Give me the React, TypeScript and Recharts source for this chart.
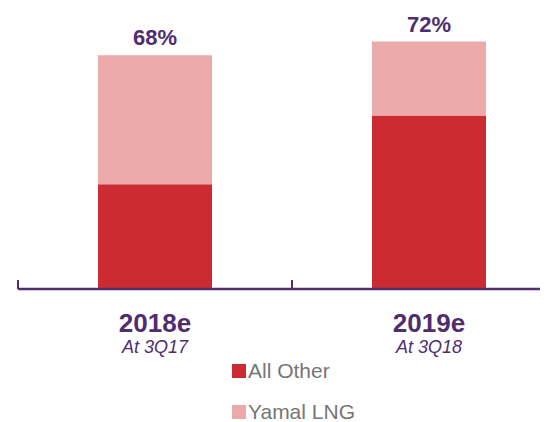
import React from 'react';
import { BarChart, Bar, XAxis, YAxis, LabelList, Legend } from 'recharts';

const years = ['2018e', '2019e'];
const asOf = ['At 3Q17', 'At 3Q18'];
const allOther = [30.5, 50.5];
const yamal = [37.5, 21.5];
const totals = ['68%', '72%'];
const seriesNames = ['All Other', 'Yamal LNG'];

const purple = '#4f2d6f';
const darkRed = '#cc2b31';
const pink = '#eba9aa';
const font = '"Liberation Sans", Arial, sans-serif';

const data = years.map((year, i) => ({
  year,
  sub: asOf[i],
  allOther: allOther[i],
  yamal: yamal[i],
  total: totals[i],
}));

// category label plus the small upward tick at each category's edge
const YearTick = (props: any) => {
  const { x, y, index, payload, width, visibleTicksCount } = props;
  const half = payload && payload.offset ? payload.offset : width / (visibleTicksCount || 2) / 2;
  const left = x - half;
  const right = x + half;
  return (
    <g>
      <line x1={left} x2={left} y1={y - 9} y2={y} stroke={purple} strokeWidth={2} />
      {index === data.length - 1 && <line x1={right} x2={right} y1={y - 9} y2={y} stroke={purple} strokeWidth={2} />}
      <text x={x} y={y + 43} textAnchor="middle" fill={purple} fontSize={26} fontWeight="bold" fontFamily={font}>
        {data[index].year}
      </text>
      <text x={x} y={y + 64} textAnchor="middle" fill={purple} fontSize={18} fontStyle="italic" fontFamily={font}>
        {data[index].sub}
      </text>
    </g>
  );
};

const LegendBox = () => {
  const colors = [darkRed, pink];
  return (
    <div style={{ position: 'relative', height: 64, width: 540, fontFamily: font }}>
      {seriesNames.map((name, i) => (
        <div key={name}>
          <div style={{ position: 'absolute', left: 224, top: 6 + i * 41, width: 14, height: 14, background: colors[i] }} />
          <div style={{ position: 'absolute', left: 240, top: 1 + i * 41, fontSize: 21, lineHeight: '24px', color: '#767676', whiteSpace: 'nowrap' }}>
            {name}
          </div>
        </div>
      ))}
    </div>
  );
};

export default function App() {
  return (
    <div style={{ width: 540, height: 414, overflow: 'hidden' }}>
      <BarChart width={558} height={414} data={data} margin={{ top: 6, right: 0, bottom: 0, left: 10 }}>
        <XAxis
          dataKey="year"
          height={69}
          tickLine={false}
          tickSize={0}
          tickMargin={0}
          axisLine={{ stroke: purple, strokeWidth: 2.5 }}
          tick={<YearTick />}
          interval={0}
        />
        <YAxis hide domain={[0, 80]} />
        <Legend verticalAlign="bottom" wrapperStyle={{ left: 0, width: 540 }} content={<LegendBox />} />
        <Bar dataKey="allOther" name={seriesNames[0]} stackId="a" fill={darkRed} barSize={114} isAnimationActive={false} />
        <Bar dataKey="yamal" name={seriesNames[1]} stackId="a" fill={pink} barSize={114} isAnimationActive={false}>
          <LabelList dataKey="total" position="top" offset={10} fill={purple} fontSize={22} fontWeight="bold" fontFamily={font} />
        </Bar>
      </BarChart>
    </div>
  );
}
